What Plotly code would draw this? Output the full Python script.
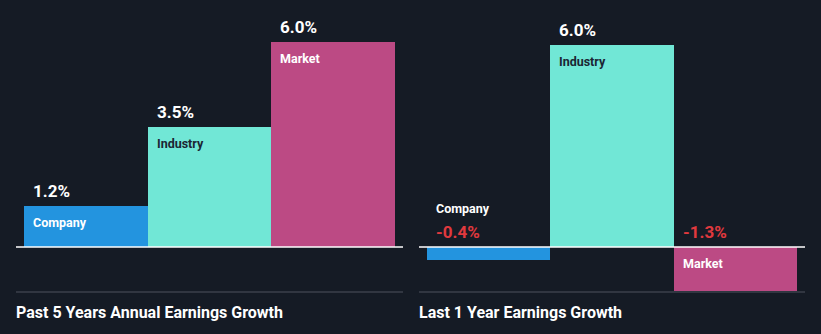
import plotly.graph_objects as go

W, H = 821, 334

categories = ["Company", "Industry", "Market"]
past5_values = [1.2, 3.5, 6.0]
last1_values = [-0.4, 6.0, -1.3]
panel_titles = ["Past 5 Years Annual Earnings Growth", "Last 1 Year Earnings Growth"]

bar_colors = ["#2394df", "#71e7d6", "#bc4a84"]
name_colors = ["#ffffff", "#1b2633", "#ffffff"]
BG = "#151b25"
RED = "#e0393e"
FONT = "Roboto"

def px_x(p):
    return p / W

def px_y(p):
    return (H - p) / H

# pixel layout: zero line at y=247, bar spans
zero_px = 247
panels = [
    dict(values=past5_values, x0=24, x1=395, top_px=42, line=(16, 403), title_x=14),
    dict(values=last1_values, x0=427, x1=797, top_px=45, line=(419, 805), title_x=417),
]

fig = go.Figure()
shapes, annotations = [], []
layout = {}
for k, p in enumerate(panels):
    idx = "" if k == 0 else str(k + 1)
    xa, ya = "x" + idx, "y" + idx
    vals = p["values"]
    vmax = max(vals)
    ppu = (zero_px - p["top_px"]) / vmax
    ymin = -(H - zero_px) / ppu
    ymax = zero_px / ppu
    fig.add_trace(go.Bar(
        x=list(range(len(categories))), y=vals,
        marker=dict(color=bar_colors, line=dict(width=0)),
        width=1.0, xaxis=xa, yaxis=ya, showlegend=False, hoverinfo="skip",
    ))
    layout["xaxis" + idx] = dict(domain=[px_x(p["x0"]), px_x(p["x1"])], range=[-0.5, 2.5],
                                 visible=False, fixedrange=True)
    layout["yaxis" + idx] = dict(domain=[0, 1], range=[ymin, ymax], visible=False,
                                 fixedrange=True, anchor=xa)
    # zero line
    shapes.append(dict(type="line", xref="paper", yref=ya, x0=px_x(p["line"][0]),
                       x1=px_x(p["line"][1]), y0=0, y1=0, line=dict(color="#ffffff", width=1.5)))
    # separator
    shapes.append(dict(type="line", xref="paper", yref="paper", x0=px_x(p["line"][0]),
                       x1=px_x(p["line"][1]), y0=px_y(292), y1=px_y(292),
                       line=dict(color="#3b414b", width=1.5)))
    annotations.append(dict(text=panel_titles[k], xref="paper", yref="paper",
                            x=px_x(p["title_x"]), y=px_y(312), xanchor="left", yanchor="middle",
                            showarrow=False, font=dict(family=FONT, size=16, color="#ffffff", weight="bold")))
    for i, (c, v) in enumerate(zip(categories, vals)):
        label = f"{v:.1f}%"
        if v >= 0:
            annotations.append(dict(text=label, x=i - 0.5, y=v, xref=xa, yref=ya,
                                    xanchor="left", yanchor="bottom", xshift=7, yshift=3,
                                    showarrow=False,
                                    font=dict(family=FONT, size=17, color="#ffffff", weight="bold")))
            annotations.append(dict(text=c, x=i - 0.5, y=v, xref=xa, yref=ya,
                                    xanchor="left", yanchor="top", xshift=7, yshift=-7,
                                    showarrow=False,
                                    font=dict(family=FONT, size=12.5, color=name_colors[i], weight="bold")))
        else:
            annotations.append(dict(text=label, x=i - 0.5, y=0, xref=xa, yref=ya,
                                    xanchor="left", yanchor="bottom", xshift=7, yshift=3,
                                    showarrow=False,
                                    font=dict(family=FONT, size=17, color=RED, weight="bold")))
            if abs(v) * ppu > 30:
                annotations.append(dict(text=c, x=i - 0.5, y=0, xref=xa, yref=ya,
                                        xanchor="left", yanchor="top", xshift=7, yshift=-7,
                                        showarrow=False,
                                        font=dict(family=FONT, size=12.5, color=name_colors[i], weight="bold")))
            else:
                annotations.append(dict(text=c, x=i - 0.5, y=0, xref=xa, yref=ya,
                                        xanchor="left", yanchor="bottom", xshift=7, yshift=29,
                                        showarrow=False,
                                        font=dict(family=FONT, size=12.5, color="#ffffff", weight="bold")))

fig.update_layout(
    width=W, height=H, margin=dict(l=0, r=0, t=0, b=0),
    paper_bgcolor=BG, plot_bgcolor=BG, bargap=0,
    shapes=shapes, annotations=annotations, **layout,
)
fig.write_html("out.html", config={"displayModeBar": False})
